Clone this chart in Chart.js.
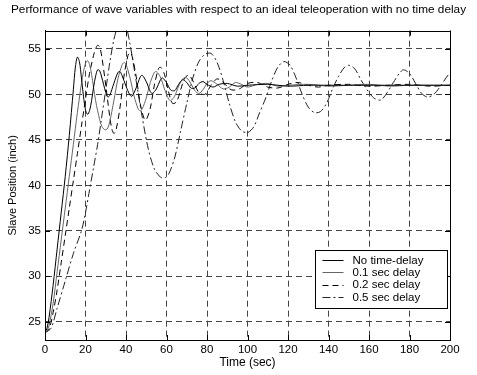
<!DOCTYPE html>
<html>
<head>
<meta charset="utf-8">
<script src="https://cdn.jsdelivr.net/npm/chart.js@4.4.1/dist/chart.umd.min.js"></script>
<style>
  body { margin: 0; background: #fff; }
</style>
</head>
<body>
<canvas id="myChart" width="477" height="375"></canvas>
<script>
const chartTitle = "Performance of wave variables with respect to an ideal teleoperation with no time delay";
const xTitle = "Time (sec)";
const yTitle = "Slave Position (inch)";
const xTicks = [0, 20, 40, 60, 80, 100, 120, 140, 160, 180, 200];
const yTicks = [25, 30, 35, 40, 45, 50, 55];
const seriesNames = ["No time-delay", "0.1 sec delay", "0.2 sec delay", "0.5 sec delay"];

// [time, position]
const noDelay = [
  [0, 23.8], [1, 24.3], [2, 25.5], [4, 29], [6, 33], [8, 37], [10, 41], [12, 45.5], [14, 50.5],
  [15, 53], [16, 54.1], [17, 53.6], [18, 51.8], [19, 49.8], [20, 48.3], [21, 47.8], [22, 48.2],
  [23, 49.3], [24, 50.8], [25, 52], [26, 52.7], [27, 52.6], [28, 51.9], [30, 50.2], [31, 49.7],
  [32, 49.9], [34, 51.2], [36, 52.4], [37, 52.5], [38, 52.1], [40, 50.9], [42, 49.9], [43, 49.8],
  [45, 50.7], [47, 51.9], [48, 52.1], [50, 51.4], [52, 50.3], [53, 50.1], [55, 50.6], [57, 51.6],
  [58, 51.8], [60, 51.3], [62, 50.5], [64, 50.4], [66, 51.1], [68, 51.6], [70, 51.3], [72, 50.7],
  [74, 50.7], [76, 51.2], [78, 51.4], [80, 51.1], [83, 50.8], [86, 51.1], [90, 51.2], [95, 50.9],
  [100, 51], [110, 51.1], [120, 50.9], [130, 51], [140, 51], [150, 51], [160, 51], [170, 51],
  [180, 51], [190, 51], [200, 51]
];
const delay01 = [
  [0, 23.8], [1, 24], [2, 24.6], [4, 27], [6, 30.5], [8, 34], [10, 37.5], [12, 41], [14, 44.5],
  [16, 48], [18, 51.2], [19, 52.5], [20, 53.4], [21, 53.7], [22, 53.3], [23, 52.2], [25, 49.3],
  [27, 47.2], [28, 46.5], [29, 46.2], [30, 46.1], [31, 46.3], [32, 47], [34, 49.3], [36, 51.7],
  [38, 53.2], [39, 53.5], [40, 53.3], [42, 51.8], [44, 49.8], [46, 48.4], [47, 48.2], [48, 48.4],
  [50, 49.6], [52, 51.3], [54, 52.4], [55, 52.5], [57, 51.9], [59, 50.6], [61, 49.5], [62, 49.3],
  [64, 49.8], [66, 50.9], [68, 51.7], [70, 51.8], [72, 51.2], [74, 50.4], [76, 50.1], [78, 50.5],
  [80, 51.2], [82, 51.5], [85, 51.1], [88, 50.6], [91, 50.8], [94, 51.3], [97, 51.1], [100, 50.8],
  [105, 51.1], [110, 51.2], [115, 50.9], [120, 51], [130, 51.1], [140, 50.9], [150, 51],
  [160, 51.1], [170, 50.9], [180, 51], [190, 51], [200, 51]
];
const delay02 = [
  [0, 23.8], [2, 24.2], [4, 26], [6, 28.5], [8, 31.5], [10, 34.5], [12, 37.5], [14, 40.5],
  [16, 43.5], [18, 46.5], [20, 49.5], [22, 52.3], [24, 54.3], [25, 55], [26, 55.4], [27, 55.2],
  [28, 54.2], [30, 51], [32, 47.5], [33, 46.2], [34, 45.7], [35, 46], [37, 48.5], [39, 52],
  [41, 54.3], [42, 54.6], [43, 54.2], [45, 52], [47, 49], [49, 47.3], [50, 47.2], [52, 48.5],
  [54, 51], [56, 52.8], [57, 53], [59, 52.2], [61, 50.3], [63, 49], [65, 49.2], [67, 50.5],
  [69, 51.8], [71, 52.1], [73, 51.5], [76, 50.2], [79, 50], [82, 51], [85, 51.7], [88, 51.3],
  [92, 50.5], [96, 50.6], [100, 51.2], [105, 51.3], [110, 50.8], [115, 50.7], [120, 51.1],
  [125, 51.3], [130, 51], [135, 50.8], [140, 51], [150, 51.1], [160, 50.9], [170, 51],
  [180, 51.1], [190, 50.9], [200, 51]
];
const delay05 = [
  [0, 23.8], [3, 24.3], [6, 26.5], [10, 29.5], [14, 32.5], [18, 35], [20, 37], [22, 39.5],
  [24, 42], [26, 44.5], [28, 47.5], [30, 50.5], [32, 53.5], [34, 56], [36, 57.5], [38, 58],
  [40, 57.5], [42, 55.5], [45, 51.5], [48, 47.5], [51, 44], [54, 41.8], [57, 40.9], [59, 40.8],
  [61, 41.2], [64, 43], [67, 46], [70, 49], [73, 51.8], [76, 53.6], [79, 54.4], [82, 54.5],
  [85, 53.5], [88, 51.5], [91, 49], [94, 47], [97, 46], [100, 45.8], [103, 46.4], [106, 48],
  [109, 49.6], [112, 51.5], [115, 53], [118, 53.6], [121, 53.2], [124, 51.8], [127, 50],
  [130, 48.6], [133, 48], [136, 48.1], [139, 49], [142, 50.6], [145, 52], [148, 53], [150, 53.2],
  [153, 52.8], [156, 51.6], [160, 50.2], [163, 49.5], [166, 49.4], [169, 50.2], [172, 51.3],
  [175, 52.3], [177, 52.7], [180, 52.3], [183, 51.2], [186, 50.1], [189, 49.7], [192, 50],
  [195, 50.8], [198, 51.8], [200, 52.4]
];

const FONT = "'Liberation Sans', Arial, sans-serif";
const toXY = (arr) => arr.map(([x, y]) => ({ x: x, y: y }));

const seriesData = [noDelay, delay01, delay02, delay05];
const seriesColors = ["#000", "#666", "#000", "#222"];
const seriesDash = [[], [], [6, 4], [8, 3, 2, 3]];

// MATLAB風の枠と内向きの目盛り
const frameTicks = {
  id: "frameTicks",
  afterDatasetsDraw(chart) {
    const { ctx, chartArea, scales } = chart;
    const len = 5;
    ctx.save();
    ctx.strokeStyle = "#000";
    ctx.lineWidth = 1;
    ctx.setLineDash([]);
    ctx.beginPath();
    xTicks.forEach((v) => {
      const px = Math.round(scales.x.getPixelForValue(v)) + 0.5;
      ctx.moveTo(px, chartArea.bottom);
      ctx.lineTo(px, chartArea.bottom - len);
      ctx.moveTo(px, chartArea.top);
      ctx.lineTo(px, chartArea.top + len);
    });
    yTicks.forEach((v) => {
      const py = Math.round(scales.y.getPixelForValue(v)) + 0.5;
      ctx.moveTo(chartArea.left, py);
      ctx.lineTo(chartArea.left + len, py);
      ctx.moveTo(chartArea.right, py);
      ctx.lineTo(chartArea.right - len, py);
    });
    ctx.stroke();
    const l = Math.round(chartArea.left) + 0.5;
    const r = Math.round(chartArea.right) + 0.5;
    const t = Math.round(chartArea.top) + 0.5;
    const b = Math.round(chartArea.bottom) + 0.5;
    ctx.strokeRect(l, t, r - l, b - t);
    ctx.restore();
  },
};

// 凡例（プロット内の右下）
const legendBox = {
  id: "legendBox",
  afterDatasetsDraw(chart) {
    const { ctx, chartArea } = chart;
    const w = 132, h = 58;
    const x0 = Math.round(chartArea.right - 3 - w) + 0.5;
    const y0 = Math.round(chartArea.bottom - 32 - h) + 0.5;
    ctx.save();
    ctx.fillStyle = "#fff";
    ctx.fillRect(x0, y0, w, h);
    ctx.strokeStyle = "#000";
    ctx.lineWidth = 1;
    ctx.setLineDash([]);
    ctx.strokeRect(x0, y0, w, h);
    ctx.font = "11.5px " + FONT;
    ctx.textBaseline = "middle";
    ctx.textAlign = "left";
    chart.data.datasets.forEach((ds, i) => {
      const yy = y0 + 9.5 + i * 12.4;
      ctx.strokeStyle = ds.borderColor;
      ctx.setLineDash(ds.borderDash);
      ctx.beginPath();
      ctx.moveTo(x0 + 7, Math.round(yy) + 0.5);
      ctx.lineTo(x0 + 28, Math.round(yy) + 0.5);
      ctx.stroke();
      ctx.fillStyle = "#000";
      ctx.fillText(ds.label, x0 + 37, yy + 0.5);
    });
    ctx.restore();
  },
};

const tickFont = { family: FONT, size: 11.5 };

new Chart(document.getElementById("myChart").getContext("2d"), {
  type: "line",
  data: {
    datasets: seriesNames.map((name, i) => ({
      label: name,
      data: toXY(seriesData[i]),
      borderColor: seriesColors[i],
      borderDash: seriesDash[i],
      borderWidth: 1,
      pointRadius: 0,
      tension: 0.3,
      fill: false,
    })),
  },
  options: {
    responsive: false,
    animation: false,
    devicePixelRatio: 1,
    layout: { padding: 0 },
    plugins: {
      legend: { display: false },
      tooltip: { enabled: false },
      title: {
        display: true,
        text: chartTitle,
        color: "#000",
        font: { family: FONT, size: 11.8, weight: "normal" },
        padding: { top: 3, bottom: 13.5 },
      },
    },
    scales: {
      x: {
        type: "linear",
        min: 0,
        max: 200,
        afterBuildTicks: (s) => { s.ticks = xTicks.map((v) => ({ value: v })); },
        afterFit: (s) => { s.height = 35; },
        grid: { color: "#444", lineWidth: 1, drawTicks: false },
        border: { display: true, color: "#000", width: 1, dash: [6, 4] },
        ticks: { color: "#000", font: tickFont, padding: 3, maxRotation: 0, autoSkip: false },
        title: { display: true, text: xTitle, color: "#000", font: { family: FONT, size: 12 }, padding: { top: 0, bottom: 5 } },
      },
      y: {
        min: 23,
        max: 57,
        afterBuildTicks: (s) => { s.ticks = yTicks.map((v) => ({ value: v })); },
        afterFit: (s) => { s.width = 45; },
        grid: { color: "#444", lineWidth: 1, drawTicks: false },
        border: { display: true, color: "#000", width: 1, dash: [6, 4] },
        ticks: { color: "#000", font: tickFont, padding: 4 },
        title: { display: true, text: yTitle, color: "#000", font: { family: FONT, size: 11 }, padding: { top: 6, bottom: 0 } },
      },
      y2: {
        position: "right",
        min: 23,
        max: 57,
        afterFit: (s) => { s.width = 27; },
        grid: { display: false, drawOnChartArea: false },
        border: { display: false },
        ticks: { display: false },
      },
    },
  },
  plugins: [frameTicks, legendBox],
});
</script>
</body>
</html>
